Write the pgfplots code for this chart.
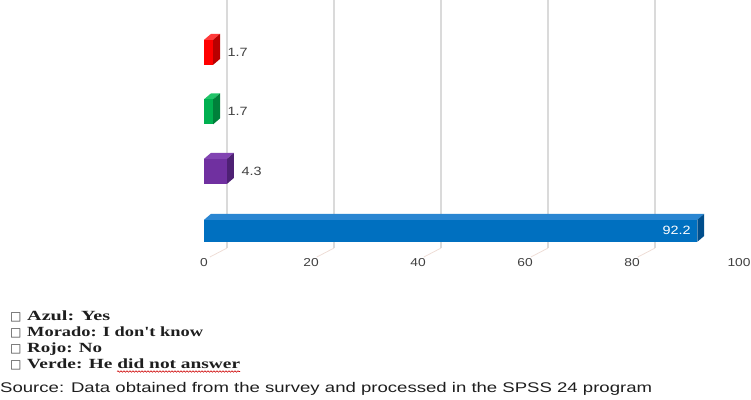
\documentclass[border=0pt]{standalone}
\usepackage{pgfplots}
\pgfplotsset{compat=1.18}
\usepackage{fontspec}
\setmainfont{Liberation Sans}
\newfontfamily\chartfont[FakeStretch=1.2]{Liberation Sans}
\newfontfamily\legfont{Liberation Serif}
\newfontfamily\symfont{DejaVu Sans}
\usetikzlibrary{decorations.pathmorphing}

% face colours: front, top, side
\definecolor{azulF}{HTML}{0070C0}\definecolor{azulT}{HTML}{2A86D2}\definecolor{azulS}{HTML}{004E8C}
\definecolor{moradoF}{HTML}{7030A0}\definecolor{moradoT}{HTML}{8244B2}\definecolor{moradoS}{HTML}{4E2174}
\definecolor{rojoF}{HTML}{FF0000}\definecolor{rojoT}{HTML}{FF3A3A}\definecolor{rojoS}{HTML}{B80000}
\definecolor{verdeF}{HTML}{00B050}\definecolor{verdeT}{HTML}{20C468}\definecolor{verdeS}{HTML}{00803A}
\definecolor{gridc}{HTML}{DADADA}
\definecolor{floorc}{HTML}{EEDDD6}
\definecolor{labc}{HTML}{404040}
\definecolor{txtc}{HTML}{1E1E1E}

% depth of the 3-D bars in axis units
\def\bdx{1.3}
\def\bdy{0.1}
% #1 value, #2 centre, #3 half height, #4 front, #5 top, #6 side
\newcommand{\barthreed}[6]{%
  \pgfmathsetmacro\bLo{#2-#3}\pgfmathsetmacro\bHi{#2+#3}%
  \pgfmathsetmacro\bLoD{#2-#3+\bdy}\pgfmathsetmacro\bHiD{#2+#3+\bdy}%
  \pgfmathsetmacro\bEnd{#1+\bdx}%
  \edef\temp{%
    \noexpand\addplot[draw=none,fill=#5] coordinates {(0,\bHi) (#1,\bHi) (\bEnd,\bHiD) (\bdx,\bHiD)};
    \noexpand\addplot[draw=none,fill=#6] coordinates {(#1,\bLo) (\bEnd,\bLoD) (\bEnd,\bHiD) (#1,\bHi)};
    \noexpand\addplot[draw=none,fill=#4] coordinates {(0,\bLo) (#1,\bLo) (#1,\bHi) (0,\bHi)};
  }\temp}

\begin{document}
\begin{tikzpicture}
\path[use as bounding box] (0,0) rectangle (751pt,399pt);
\begin{axis}[
  at={(204pt,142pt)}, anchor=south west,
  scale only axis, width=535pt, height=257pt,
  xmin=0, xmax=100, ymin=-0.44, ymax=3.88,
  clip=false,
  axis line style={draw=none},
  tick style={draw=none},
  ytick=\empty,
  xtick={0,20,40,60,80,100},
  /pgf/number format/assume math mode=true,
  xticklabel style={anchor=center, yshift=-5.5pt, font=\chartfont\fontsize{11.5}{12}\selectfont, text=labc},
]
% back wall grid lines and floor lines
\addplot[gridc, line width=1.1pt] coordinates {(4.3,-0.29) (4.3,3.88)};
\addplot[gridc, line width=1.1pt] coordinates {(24.3,-0.29) (24.3,3.88)};
\addplot[gridc, line width=1.1pt] coordinates {(44.3,-0.29) (44.3,3.88)};
\addplot[gridc, line width=1.1pt] coordinates {(64.3,-0.29) (64.3,3.88)};
\addplot[gridc, line width=1.1pt] coordinates {(84.3,-0.29) (84.3,3.88)};
\addplot[floorc, line width=0.8pt] coordinates {(1.1,-0.44) (4.3,-0.29)};
\addplot[floorc, line width=0.8pt] coordinates {(21.1,-0.44) (24.3,-0.29)};
\addplot[floorc, line width=0.8pt] coordinates {(41.1,-0.44) (44.3,-0.29)};
\addplot[floorc, line width=0.8pt] coordinates {(61.1,-0.44) (64.3,-0.29)};
\addplot[floorc, line width=0.8pt] coordinates {(81.1,-0.44) (84.3,-0.29)};

% bars: Rojo, Verde, Morado, Azul
\barthreed{1.7}{3}{0.21}{rojoF}{rojoT}{rojoS}
\barthreed{1.7}{2}{0.21}{verdeF}{verdeT}{verdeS}
\barthreed{4.3}{1}{0.21}{moradoF}{moradoT}{moradoS}
\barthreed{92.2}{0}{0.185}{azulF}{azulT}{azulS}

% value labels
\addplot[draw=none, nodes near coords, point meta=explicit symbolic,
  nodes near coords style={anchor=west, xshift=11pt, text=labc,
    font=\chartfont\fontsize{12}{12}\selectfont}]
  coordinates {(1.7,3) [1.7] (1.7,2) [1.7] (4.3,1) [4.3]};
\addplot[draw=none, nodes near coords, point meta=explicit symbolic,
  nodes near coords style={anchor=east, xshift=-3pt, text=white,
    font=\chartfont\fontsize{12}{12}\selectfont}]
  coordinates {(92.2,0) [92.2]};
\end{axis}

% key and source
\foreach \yy in {79,63,47,31} {
  \node[anchor=base west, inner sep=0, text=labc] at (10pt,\yy pt) {\symfont\fontsize{12}{12}\selectfont □};
}
\node[anchor=base west, inner sep=0, text=txtc] at (27pt,79pt)
  {\resizebox{83pt}{\height}{\legfont\bfseries\fontsize{14}{14}\selectfont Azul: Yes}};
\node[anchor=base west, inner sep=0, text=txtc] at (27pt,63pt)
  {\resizebox{176pt}{\height}{\legfont\bfseries\fontsize{14}{14}\selectfont Morado: I don't know}};
\node[anchor=base west, inner sep=0, text=txtc] at (27pt,47pt)
  {\resizebox{75pt}{\height}{\legfont\bfseries\fontsize{14}{14}\selectfont Rojo: No}};
\node[anchor=base west, inner sep=0, text=txtc] at (27pt,31pt)
  {\resizebox{213pt}{\height}{\legfont\bfseries\fontsize{14}{14}\selectfont Verde: He did not answer}};
\draw[red!80!black, line width=0.6pt, decorate,
  decoration={snake, amplitude=0.7pt, segment length=3pt}] (117pt,27.5pt) -- (240pt,27.5pt);
\node[anchor=base west, inner sep=0, text=txtc] at (0pt,7pt)
  {\resizebox{652pt}{\height}{\fontsize{14}{14}\selectfont Source: Data obtained from the survey and processed in the SPSS 24 program}};
\end{tikzpicture}
\end{document}
